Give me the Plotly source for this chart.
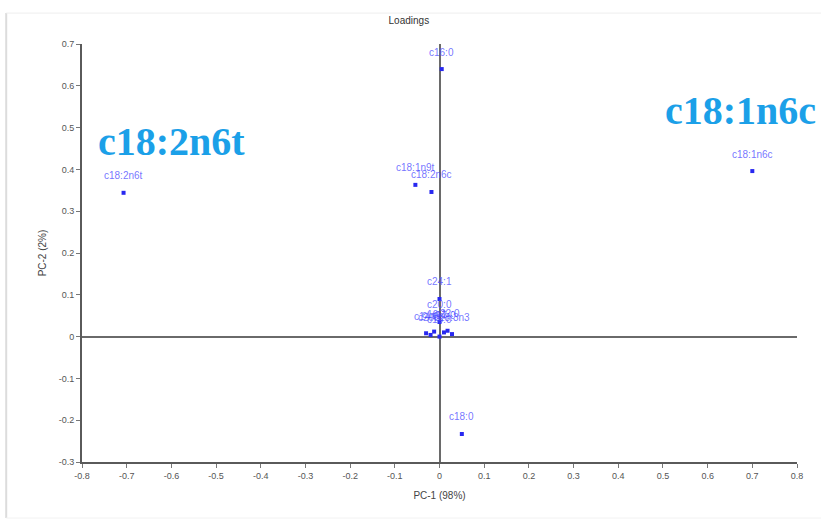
import plotly.graph_objects as go

names = ["c16:0", "c18:1n6c", "c18:2n6t", "c18:1n9t", "c18:2n6c", "c18:0", "c24:1", "c20:0",
         "c14:0", "c16:1", "c17:0", "c18:3n3", "c20:1", "c22:0", "c15:0"]
pc1 = [0.005, 0.700, -0.707, -0.054, -0.018, 0.050, 0.000, 0.000,
       -0.030, -0.012, 0.010, 0.028, -0.020, 0.018, 0.000]
pc2 = [0.640, 0.396, 0.344, 0.363, 0.346, -0.233, 0.090, 0.035,
       0.008, 0.012, 0.010, 0.006, 0.004, 0.014, 0.000]

big_labels = ["c18:2n6t", "c18:1n6c"]
big_x = [-0.600, 0.673]
big_y = [0.466, 0.540]

x_ticks = [round(-0.8 + 0.1 * i, 1) for i in range(17)]
y_ticks = [round(-0.3 + 0.1 * i, 1) for i in range(11)]

fig = go.Figure()
fig.add_trace(go.Scatter(
    x=pc1, y=pc2, mode="markers", text=names,
    marker=dict(symbol="square", size=4, color="rgb(40,40,240)"),
    hoverinfo="text", showlegend=False,
))

for n, px, py in zip(names, pc1, pc2):
    fig.add_annotation(x=px, y=py, text=n, showarrow=False, yshift=17,
                       xanchor="center", yanchor="middle",
                       font=dict(family="Arial, Liberation Sans", size=10, color="rgba(70,70,255,0.75)"))

for t, bx, by in zip(big_labels, big_x, big_y):
    fig.add_annotation(x=bx, y=by, text="<b>" + t + "</b>", showarrow=False,
                       font=dict(family="Liberation Serif, Times New Roman, serif", size=40,
                                 color="rgb(27,160,232)"),
                       xanchor="center", yanchor="middle")

# outer light frame
fig.add_shape(type="line", xref="paper", yref="paper", x0=-0.106, x1=-0.106, y0=-0.134, y1=1.074,
              line=dict(color="rgb(220,220,220)", width=2), layer="below")
fig.add_shape(type="line", xref="paper", yref="paper", x0=-0.106, x1=1.2, y0=1.074, y1=1.074,
              line=dict(color="rgb(238,238,238)", width=1), layer="below")
fig.add_shape(type="line", xref="paper", yref="paper", x0=-0.106, x1=1.2, y0=-0.134, y1=-0.134,
              line=dict(color="rgb(242,242,242)", width=1), layer="below")

fig.update_layout(
    width=821, height=527,
    margin=dict(l=82, r=24, t=44, b=65),
    paper_bgcolor="white", plot_bgcolor="white",
    title=dict(text="Loadings", x=0.498, xref="container", y=0.962, yref="container",
               xanchor="center", yanchor="middle",
               font=dict(family="Arial, Liberation Sans", size=10, color="#333")),
    xaxis=dict(range=[-0.8, 0.8], tickvals=x_ticks, ticktext=[("0" if v == 0 else f"{v:g}") for v in x_ticks],
               showgrid=False, zeroline=True, zerolinecolor="#6a6a6a", zerolinewidth=2,
               showline=True, linecolor="#5a5a5a", linewidth=2, ticks="outside", ticklen=4,
               tickcolor="#777", tickfont=dict(family="Arial, Liberation Sans", size=9, color="#555"),
               title=dict(text="PC-1 (98%)", standoff=12,
                          font=dict(family="Arial, Liberation Sans", size=10, color="#444"))),
    yaxis=dict(range=[-0.3, 0.7], tickvals=y_ticks, ticktext=[("0" if v == 0 else f"{v:g}") for v in y_ticks],
               showgrid=False, zeroline=True, zerolinecolor="#6a6a6a", zerolinewidth=2,
               showline=True, linecolor="#5a5a5a", linewidth=2, ticks="outside", ticklen=4,
               tickcolor="#777", tickfont=dict(family="Arial, Liberation Sans", size=9, color="#555"),
               title=dict(text="PC-2 (2%)", standoff=10,
                          font=dict(family="Arial, Liberation Sans", size=10, color="#444"))),
)

fig.write_html("out.html")
